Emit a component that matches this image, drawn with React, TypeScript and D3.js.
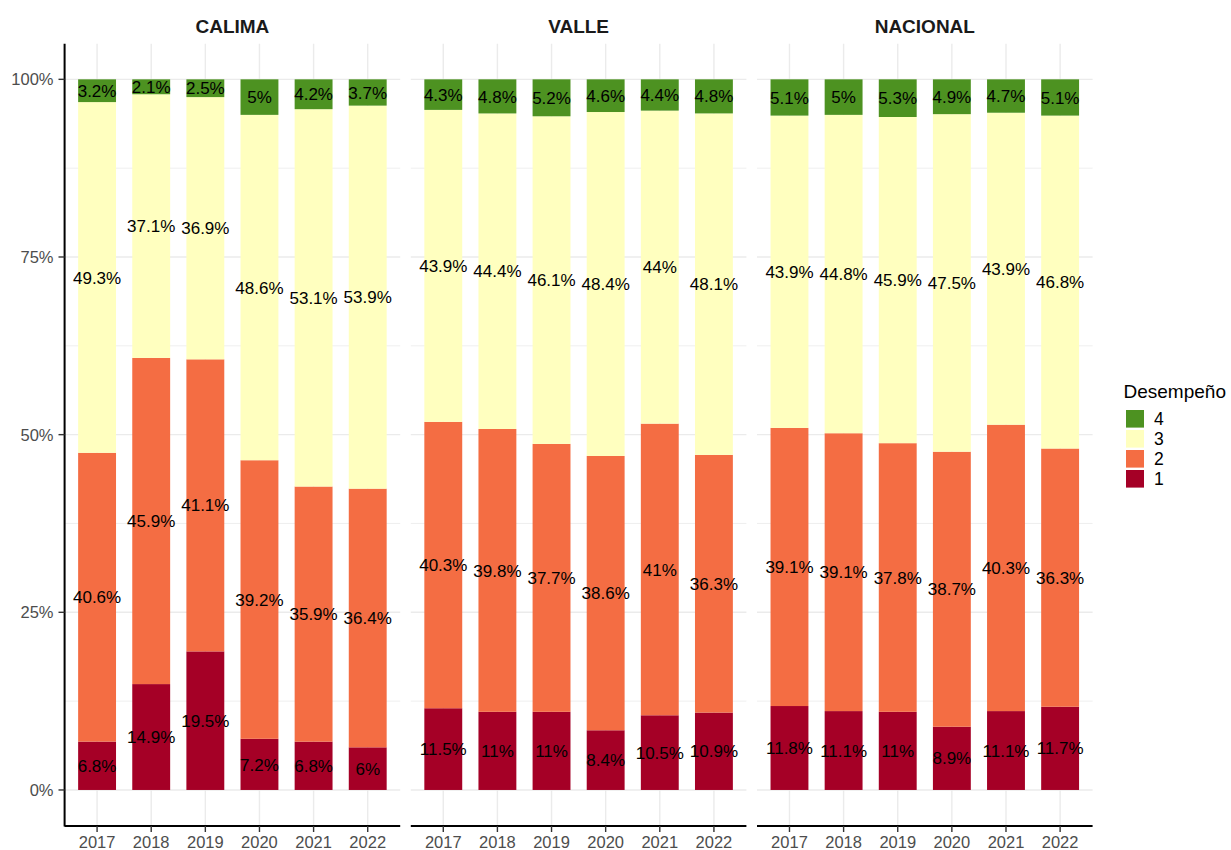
import React from "react";
import * as d3 from "d3";

// categories
const years = ["2017", "2018", "2019", "2020", "2021", "2022"];
const regions = ["CALIMA", "VALLE", "NACIONAL"];
const levels = ["1", "2", "3", "4"];
const levelColors = ["#a50026", "#f46d43", "#ffffbf", "#4d9221"];

// percentages per level, by year
const calima1 = [6.8, 14.9, 19.5, 7.2, 6.8, 6];
const calima2 = [40.6, 45.9, 41.1, 39.2, 35.9, 36.4];
const calima3 = [49.3, 37.1, 36.9, 48.6, 53.1, 53.9];
const calima4 = [3.2, 2.1, 2.5, 5, 4.2, 3.7];

const valle1 = [11.5, 11, 11, 8.4, 10.5, 10.9];
const valle2 = [40.3, 39.8, 37.7, 38.6, 41, 36.3];
const valle3 = [43.9, 44.4, 46.1, 48.4, 44, 48.1];
const valle4 = [4.3, 4.8, 5.2, 4.6, 4.4, 4.8];

const nacional1 = [11.8, 11.1, 11, 8.9, 11.1, 11.7];
const nacional2 = [39.1, 39.1, 37.8, 38.7, 40.3, 36.3];
const nacional3 = [43.9, 44.8, 45.9, 47.5, 43.9, 46.8];
const nacional4 = [5.1, 5, 5.3, 4.9, 4.7, 5.1];

const yTicks = [0, 0.25, 0.5, 0.75, 1];
const yMinor = [0.125, 0.375, 0.625, 0.875];

const regionData: number[][][] = [
  [calima1, calima2, calima3, calima4],
  [valle1, valle2, valle3, valle4],
  [nacional1, nacional2, nacional3, nacional4],
];

const FONT = "'Liberation Sans', Arial, sans-serif";

// panel geometry
const panelLefts = [64.6, 410.8, 757];
const panelWidth = 335.6;
const panelTop = 43.8;
const panelBottom = 825.5;

const y = d3
  .scaleLinear()
  .domain([-0.05, 1.05])
  .range([panelBottom, panelTop]);

const Panel: React.FC<{ idx: number }> = ({ idx }) => {
  const left = panelLefts[idx];
  // discrete scale with 0.6 unit expansion on each side
  const x = d3
    .scalePoint()
    .domain(years)
    .range([left, left + panelWidth])
    .padding(0.6);
  const unit = x.step();
  const cx = (yr: string) => x(yr) as number;
  const barW = unit * 0.7;

  const rows = years.map((yr, i) => {
    const r: any = { year: yr };
    levels.forEach((l, j) => (r[l] = regionData[idx][j][i]));
    return r;
  });
  const series = d3
    .stack<any>()
    .keys(levels)
    .offset(d3.stackOffsetExpand)(rows);

  return (
    <g>
      {/* grid */}
      {yMinor.map((t) => (
        <line
          key={"mn" + t}
          x1={left}
          x2={left + panelWidth}
          y1={y(t)}
          y2={y(t)}
          stroke="#ebebeb"
          strokeWidth={0.8}
        />
      ))}
      {yTicks.map((t) => (
        <line
          key={"mj" + t}
          x1={left}
          x2={left + panelWidth}
          y1={y(t)}
          y2={y(t)}
          stroke="#ebebeb"
          strokeWidth={1.4}
        />
      ))}
      {years.map((yr) => (
        <line
          key={"vg" + yr}
          x1={cx(yr)}
          x2={cx(yr)}
          y1={panelTop}
          y2={panelBottom}
          stroke="#ebebeb"
          strokeWidth={1.4}
        />
      ))}
      {/* bars */}
      {series.map((s, j) =>
        s.map((d, i) => (
          <rect
            key={"b" + j + "-" + i}
            x={cx(years[i]) - barW / 2}
            width={barW}
            y={y(d[1])}
            height={y(d[0]) - y(d[1])}
            fill={levelColors[j]}
          />
        ))
      )}
      {/* labels */}
      {series.map((s, j) =>
        s.map((d, i) => (
          <text
            key={"l" + j + "-" + i}
            x={cx(years[i])}
            y={y((d[0] + d[1]) / 2)}
            dy="0.36em"
            textAnchor="middle"
            fontFamily={FONT}
            fontSize={17}
            fill="#000"
          >
            {regionData[idx][j][i] + "%"}
          </text>
        ))
      )}
      {/* x axis */}
      <line
        x1={left}
        x2={left + panelWidth}
        y1={826}
        y2={826}
        stroke="#000"
        strokeWidth={2}
      />
      {years.map((yr) => (
        <g key={"xt" + yr}>
          <line
            x1={cx(yr)}
            x2={cx(yr)}
            y1={826}
            y2={832}
            stroke="#333333"
            strokeWidth={1.4}
          />
          <text
            x={cx(yr)}
            y={848.3}
            textAnchor="middle"
            fontFamily={FONT}
            fontSize={16.5}
            fill="#4d4d4d"
          >
            {yr}
          </text>
        </g>
      ))}
      {/* strip */}
      <text
        x={left + panelWidth / 2}
        y={33.3}
        textAnchor="middle"
        fontFamily={FONT}
        fontWeight="bold"
        fontSize={19}
        fill="#1a1a1a"
      >
        {regions[idx]}
      </text>
    </g>
  );
};

const App: React.FC = () => {
  return (
    <svg
      width={1231}
      height={850}
      style={{ position: "absolute", left: 0, top: 0, background: "#fff" }}
    >
      <rect x={0} y={0} width={1231} height={850} fill="#fff" />
      {regions.map((r, i) => (
        <Panel key={r} idx={i} />
      ))}
      {/* y axis */}
      <line
        x1={64.6}
        x2={64.6}
        y1={panelTop}
        y2={826.5}
        stroke="#000"
        strokeWidth={2}
      />
      {yTicks.map((t) => (
        <g key={"yt" + t}>
          <line
            x1={58.5}
            x2={64.6}
            y1={y(t)}
            y2={y(t)}
            stroke="#333333"
            strokeWidth={1.4}
          />
          <text
            x={53.5}
            y={y(t)}
            dy="0.36em"
            textAnchor="end"
            fontFamily={FONT}
            fontSize={16.5}
            fill="#4d4d4d"
          >
            {d3.format(".0%")(t)}
          </text>
        </g>
      ))}
      {/* legend */}
      <text x={1123.5} y={397.5} fontFamily={FONT} fontSize={19} fill="#000">
        Desempeño
      </text>
      {levels
        .slice()
        .reverse()
        .map((l, k) => {
          const j = levels.indexOf(l);
          const top = 410 + k * 20;
          return (
            <g key={"lg" + l}>
              <rect
                x={1126}
                y={top}
                width={18}
                height={17.6}
                fill={levelColors[j]}
              />
              <text
                x={1154}
                y={top + 8.8}
                dy="0.36em"
                fontFamily={FONT}
                fontSize={17.5}
                fill="#000"
              >
                {l}
              </text>
            </g>
          );
        })}
    </svg>
  );
};

export default App;
